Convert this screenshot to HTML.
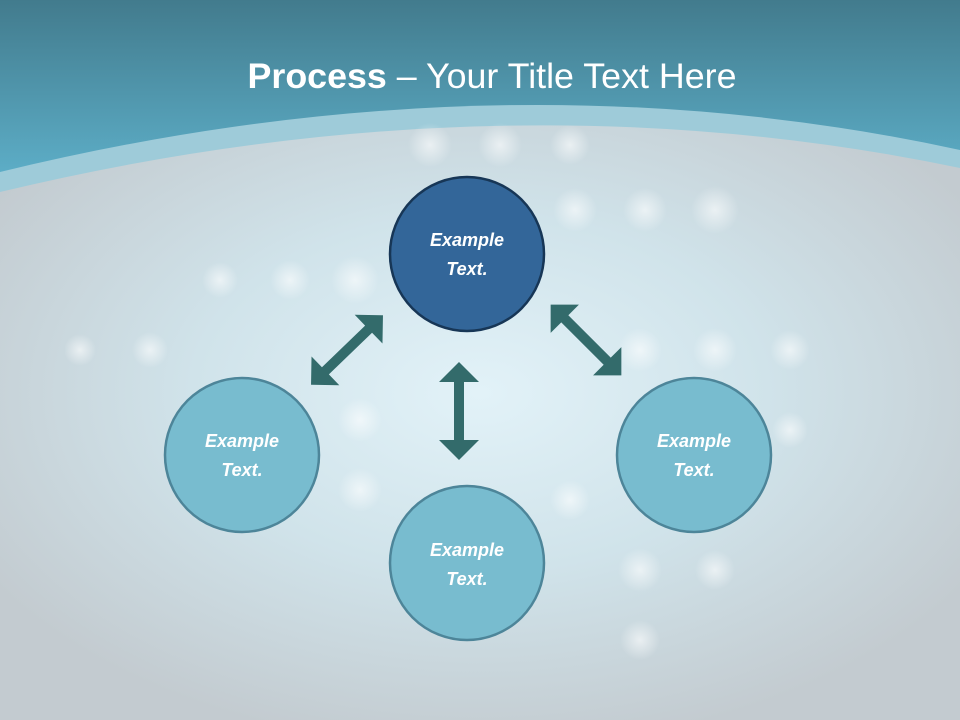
<!DOCTYPE html>
<html><head><meta charset="utf-8"><style>
html,body{margin:0;padding:0;width:960px;height:720px;overflow:hidden}
svg{display:block}
</style></head><body>
<svg width="960" height="720" viewBox="0 0 960 720" xmlns="http://www.w3.org/2000/svg">
<defs>
<linearGradient id="hdr" gradientUnits="userSpaceOnUse" x1="0" y1="0" x2="0" y2="190">
<stop offset="0" stop-color="#427b8d"/><stop offset="1" stop-color="#5fb2cc"/>
</linearGradient>
<radialGradient id="glow" cx="0.5" cy="0.45" r="0.6">
<stop offset="0" stop-color="#e2f2f8"/><stop offset="0.5" stop-color="#d0e3ea"/><stop offset="1" stop-color="#c3cbd0"/>
</radialGradient>
<radialGradient id="dot"><stop offset="0" stop-color="#ffffff" stop-opacity="0.6"/><stop offset="1" stop-color="#ffffff" stop-opacity="0"/></radialGradient>
</defs>
<rect width="960" height="720" fill="url(#hdr)"/>
<path d="M0,172 Q500,50 960,150 L960,720 L0,720 Z" fill="#9ecbd9"/>
<path d="M0,192 Q500,72 960,168 L960,720 L0,720 Z" fill="url(#glow)"/>
<g fill="url(#dot)">
<circle cx="430" cy="145" r="22"/><circle cx="500" cy="145" r="22"/><circle cx="570" cy="145" r="20"/>
<circle cx="575" cy="210" r="22"/><circle cx="645" cy="210" r="22"/><circle cx="715" cy="210" r="24"/>
<circle cx="355" cy="280" r="24"/><circle cx="290" cy="280" r="20"/><circle cx="220" cy="280" r="18"/>
<circle cx="640" cy="350" r="22"/><circle cx="715" cy="350" r="22"/><circle cx="790" cy="350" r="20"/>
<circle cx="360" cy="420" r="22"/><circle cx="150" cy="350" r="18"/><circle cx="80" cy="350" r="16"/>
<circle cx="360" cy="490" r="22"/><circle cx="570" cy="500" r="20"/><circle cx="640" cy="570" r="22"/>
<circle cx="715" cy="570" r="20"/><circle cx="640" cy="640" r="20"/><circle cx="790" cy="430" r="18"/>
</g>
<text x="492" y="88" text-anchor="middle" fill="#fff" font-family="Liberation Sans, sans-serif" font-size="35" textLength="489" lengthAdjust="spacingAndGlyphs"><tspan font-weight="bold">Process</tspan> – Your Title Text Here</text>
<g fill="#336b6b">
<path d="M459,362 L479,382 L464,382 L464,440 L479,440 L459,460 L439,440 L454,440 L454,382 L439,382 Z"/>
<g transform="translate(347,350) rotate(-44)">
<path d="M-50,0 L-30,-20 L-30,-5 L30,-5 L30,-20 L50,0 L30,20 L30,5 L-30,5 L-30,20 Z"/>
</g>
<g transform="translate(586,340) rotate(45)">
<path d="M-50,0 L-30,-20 L-30,-5 L30,-5 L30,-20 L50,0 L30,20 L30,5 L-30,5 L-30,20 Z"/>
</g>
</g>
<g stroke-width="2.5">
<circle cx="467" cy="254" r="77" fill="#336699" stroke="#173656"/>
<circle cx="242" cy="455" r="77" fill="#78bccf" stroke="#4d8599"/>
<circle cx="694" cy="455" r="77" fill="#78bccf" stroke="#4d8599"/>
<circle cx="467" cy="563" r="77" fill="#78bccf" stroke="#4d8599"/>
</g>
<g fill="#fff" font-family="Liberation Sans, sans-serif" font-size="18" font-weight="bold" font-style="italic" text-anchor="middle">
<text x="467" y="246">Example</text><text x="467" y="275">Text.</text>
<text x="242" y="447">Example</text><text x="242" y="476">Text.</text>
<text x="694" y="447">Example</text><text x="694" y="476">Text.</text>
<text x="467" y="556">Example</text><text x="467" y="585">Text.</text>
</g>
</svg>
</body></html>
